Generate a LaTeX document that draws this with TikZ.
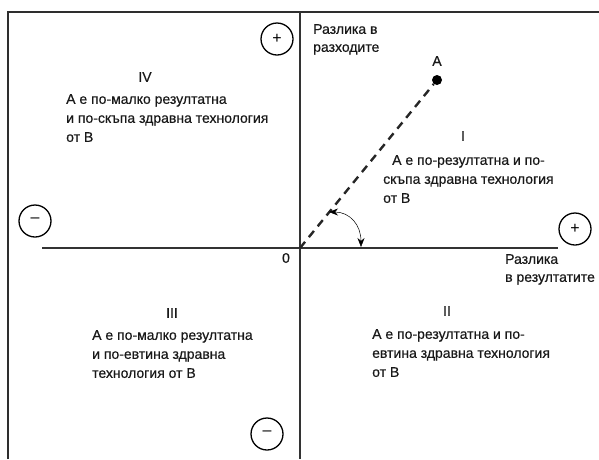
\documentclass[tikz,border=0pt]{standalone}
\usepackage{fontspec}
\setmainfont[FakeBold=0.5]{Liberation Sans}
\newfontfamily\signfont{Liberation Sans}
\usetikzlibrary{arrows.meta}
\begin{document}
\begin{tikzpicture}[x=1pt,y=-1pt,
  frame/.style={line width=2.6pt,draw=black!82},
  axis/.style={line width=2.4pt,draw=black!80},
  sign/.style={circle,draw=black,line width=1.3pt,minimum size=32pt,inner sep=0pt,font=\signfont\fontsize{16}{16}\selectfont},
  txt/.style={inner sep=0pt,align=left,anchor=north west,text=black!90,font=\fontsize{14}{19}\selectfont},
  roman/.style={inner sep=0pt,text=black!90,font=\fontsize{14}{14}\selectfont}]
\useasboundingbox (0,0) rectangle (599,459);
% frame
\draw[frame] (8,459) -- (8,12) -- (599,12);
% axes
\coordinate (O) at (300,248);
\coordinate (ytop) at (300,12);
\coordinate (ybot) at (300,459);
\coordinate (xl) at (42,248);
\coordinate (xr) at (558,248);
\draw[axis] (ytop) -- (ybot);
\draw[axis] (xl) -- (xr);
% signs
\node[sign] (ptop) at (277,39) {+};
\node[sign] (mleft) at (35,221) {\raisebox{1pt}{–}};
\node[sign] (pright) at (575,229) {+};
\node[sign] (mbot) at (267,434) {\raisebox{1pt}{–}};
% point A
\node[circle,fill=black,inner sep=0pt,minimum size=10pt] (A) at (437,80) {};
\node[roman] (Alab) at (437,61) {А};
\node[roman] (zero) at (286,258) {0};
\draw[line width=2.4pt,draw=black!85,dash pattern=on 8pt off 6pt] (O) -- (A);
% angle arrows
\coordinate (a1) at (329,212);
\coordinate (a2) at (361,247);
\draw[line width=0.5pt,{Stealth[length=9pt,width=7pt]}-{Stealth[length=9pt,width=7pt]}] (a1) .. controls (350,212) and (361,225) .. (a2);
% labels
\node[txt,font=\fontsize{14}{18}\selectfont] (costs) at (313,24) {Разлика в\\разходите};
\node[txt,font=\fontsize{14}{18}\selectfont] (effects) at (505,254) {Разлика\\в резултатите};
% quadrant IV
\node[roman] (q4) at (145,77) {IV};
\node[txt] (t4) at (66,94) {А е по-малко резултатна\\ и по-скъпа здравна технология\\от В};
% quadrant I
\node[roman] (q1) at (463,136) {I};
\node[txt] (t1) at (383,155) {\hspace*{9pt}А е по-резултатна и по-\\скъпа здравна технология\\от В};
% quadrant III
\node[roman] (q3) at (172,313) {III};
\node[txt] (t3) at (92,330) {А е по-малко резултатна\\и по-евтина здравна\\технология от В};
% quadrant II
\node[roman] (q2) at (447,311) {II};
\node[txt] (t2) at (372,329) {А е по-резултатна и по-\\евтина здравна технология\\от В};
\end{tikzpicture}
\end{document}
